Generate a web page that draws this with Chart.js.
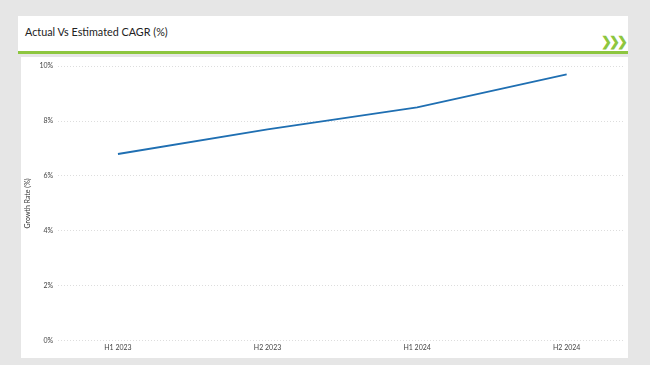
<!DOCTYPE html>
<html>
<head>
<meta charset="utf-8">
<script src="https://cdn.jsdelivr.net/npm/chart.js@4/dist/chart.umd.min.js"></script>
<style>
  html, body { margin: 0; padding: 0; }
  body { width: 650px; height: 365px; background: #e6e6e6; position: relative; overflow: hidden; font-family: Lato, "Open Sans", sans-serif; }
  #header { position: absolute; left: 18px; top: 16px; width: 610px; height: 35px; background: #fff; }
  #title { position: absolute; left: 7px; top: 9px; font-size: 10.8px; color: #222; }
  #chev { position: absolute; right: 3px; top: 17px; font-size: 13px; font-weight: bold; color: #8dc63f; letter-spacing: -3px; }
  #green { position: absolute; left: 18px; top: 51px; width: 610px; height: 3px; background: #8dc63f; }
  #plot { position: absolute; left: 21px; top: 57px; width: 607px; height: 301px; background: #fff; }
</style>
</head>
<body>
<div id="header"><div id="title">Actual Vs Estimated CAGR (%)</div><div id="chev">❯❯❯</div></div>
<div id="green"></div>
<div id="plot"><canvas id="c" width="607" height="301"></canvas></div>
<script>
const categories = ["H1 2023", "H2 2023", "H1 2024", "H2 2024"];
const growthRate = [6.8, 7.7, 8.5, 9.7];
const yTicks = [0, 2, 4, 6, 8, 10];

new Chart(document.getElementById('c'), {
  type: 'line',
  data: {
    datasets: [{
      data: growthRate.map((v, i) => ({ x: i, y: v })),
      borderColor: '#1f6fb2',
      borderWidth: 1.8,
      pointRadius: 0,
      tension: 0,
      fill: false
    }]
  },
  options: {
    responsive: false,
    animation: false,
    layout: { padding: { left: 1, right: 3, top: 2, bottom: 3 } },
    plugins: { legend: { display: false }, tooltip: { enabled: false } },
    scales: {
      x: {
        type: 'linear',
        min: -0.4,
        max: 3.39,
        afterBuildTicks: (axis) => { axis.ticks = categories.map((_, i) => ({ value: i })); },
        ticks: {
          callback: (v) => categories[v],
          color: '#444',
          font: { family: 'Lato', size: 7 },
          maxRotation: 0,
          padding: 3
        },
        grid: { display: false, drawTicks: false, tickLength: 0 },
        border: { display: false }
      },
      y: {
        min: 0,
        max: 10,
        afterBuildTicks: (axis) => { axis.ticks = yTicks.map(v => ({ value: v })); },
        ticks: {
          callback: (v) => v + '%',
          color: '#444',
          font: { family: 'Lato', size: 7 },
          padding: 5
        },
        grid: { color: '#dddddd', lineWidth: 1, drawTicks: false },
        border: { display: false, dash: [1, 2] },
        title: {
          display: true,
          text: 'Growth Rate (%)',
          color: '#333',
          font: { family: 'Lato', size: 7 },
          padding: 2
        }
      }
    }
  }
});
</script>
</body>
</html>
